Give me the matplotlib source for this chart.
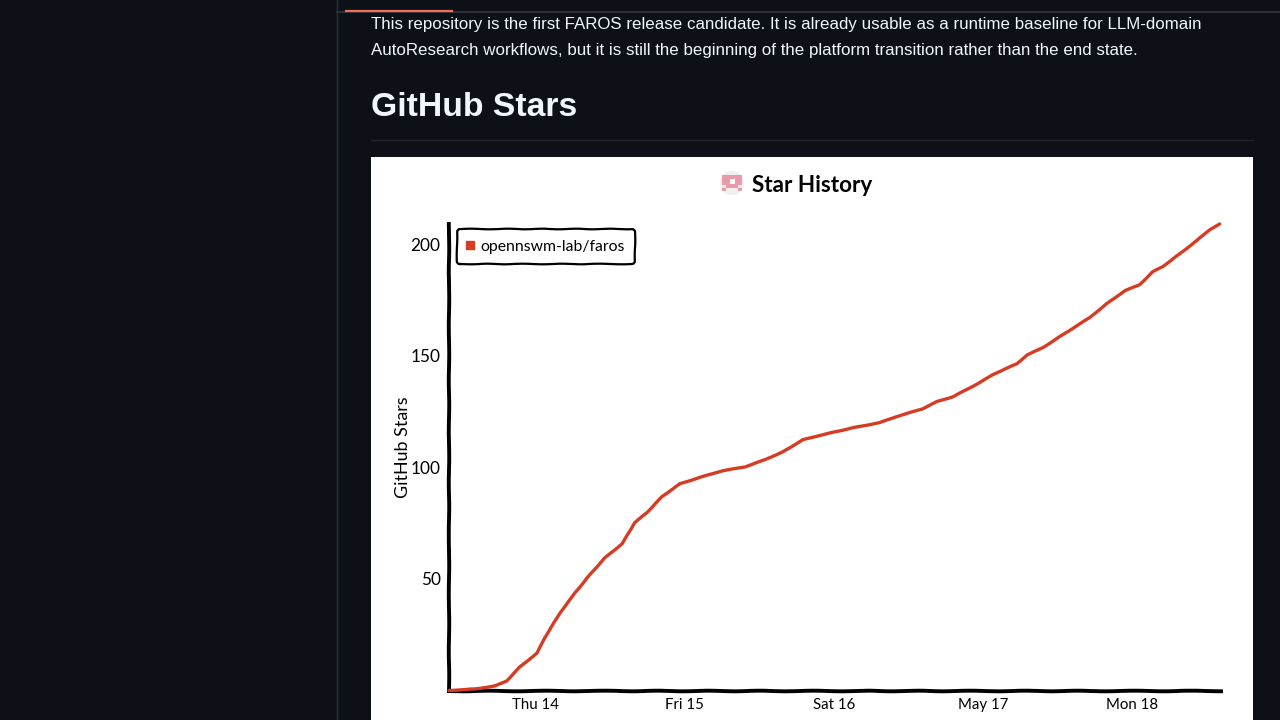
from datetime import datetime, timedelta
import matplotlib
matplotlib.use("Agg")
import matplotlib.pyplot as plt
from matplotlib.lines import Line2D
from matplotlib.patches import Circle, Rectangle

# hours after midnight on Thu 14 May
hours = [-14.0, -9.8, -6.6, -4.7, -2.6, 0.2, 1.4, 3.9, 6.3, 8.4,
         11.1, 13.9, 15.9, 18.0, 20.3, 23.2, 26.7, 30.0, 33.7, 36.9,
         39.8, 43.0, 46.2, 51.1, 55.4, 58.1, 62.3, 64.6, 67.2, 71.5,
         73.6, 77.5, 79.2, 81.7, 84.4, 89.2, 92.0, 94.9, 97.3, 99.4,
         101.0, 104.2, 106.5, 108.6, 110.2]
stars = [0.0, 0.7, 2.0, 4.3, 10.5, 16.8, 23.5, 34.8, 43.7, 50.9,
         59.4, 65.7, 75.1, 80.0, 86.8, 92.6, 95.7, 98.4, 100.2, 103.4,
         106.9, 112.3, 114.6, 117.7, 120.0, 122.7, 126.2, 129.4, 131.6, 137.9,
         141.5, 146.4, 150.4, 153.6, 158.5, 167.0, 173.3, 179.1, 181.8, 187.6,
         189.9, 196.6, 201.6, 206.5, 209.0]
tick_days = [datetime(2026, 5, d) for d in (14, 15, 16, 17, 18)]
tick_labels = ["Thu 14", "Fri 15", "Sat 16", "May 17", "Mon 18"]
star_ticks = [50, 100, 150, 200]
repo_name = "opennswm-lab/faros"

PAGE = "#0d1117"
RED = "#d63c24"
W, H = 1280, 720

t0 = datetime(2026, 5, 14)
dates = [t0 + timedelta(hours=h) for h in hours]

fig = plt.figure(figsize=(12.8, 7.2), dpi=100, facecolor=PAGE)

################################################################
# page around the chart, in pixel coordinates
page = fig.add_axes([0, 0, 1, 1])
page.set_xlim(0, W)
page.set_ylim(H, 0)
page.axis("off")
page.plot([337, 337], [0, H], color="#2a2f36", lw=1)
page.plot([337, W], [12, 12], color="#30363d", lw=1.2)
page.plot([346, 452], [11, 11], color="#f0705a", lw=1.6)
page.plot([371, 1253], [140, 140], color="#21262d", lw=1)
page.add_patch(Rectangle((371, 157), 882, 563, color="white", lw=0))
body = dict(color="#f0f6fc", fontsize=12.2, family="Liberation Sans", va="center")
page.text(371, 24.5, "This repository is the first FAROS release candidate. It is already usable as a runtime baseline for LLM-domain", **body)
page.text(371, 50, "AutoResearch workflows, but it is still the beginning of the platform transition rather than the end state.", **body)
page.text(371, 107.5, "GitHub Stars", color="#f0f6fc", fontsize=24.3, family="Liberation Sans",
          weight="bold", va="center")

# title icon
pink = "#e99aa9"
page.add_patch(Circle((732, 183), 12, color="#efefef", lw=0))
page.add_patch(Rectangle((722, 175), 20, 10, color=pink, lw=0))
page.add_patch(Rectangle((726, 185), 12, 3, color=pink, lw=0))
page.add_patch(Rectangle((722, 188), 4, 3, color=pink, lw=0))
page.add_patch(Rectangle((738, 188), 4, 3, color=pink, lw=0))
page.add_patch(Rectangle((730, 179), 5, 5, color="white", lw=0))
page.text(752, 185, "Star History", color="black", fontsize=16.2, family="Lato",
          weight="bold", va="center")

################################################################
ax = fig.add_axes([449 / W, (H - 690.5) / H, (1221 - 449) / W, (690.5 - 224) / H])
ax.patch.set_alpha(0)
line, = ax.plot(dates, stars, color=RED, lw=2.4, solid_joinstyle="round", solid_capstyle="round",
                clip_on=False, zorder=3, label=repo_name)
line.set_sketch_params(scale=0.12, length=30, randomness=2)
ax.set_xlim(t0 - timedelta(hours=14), t0 + timedelta(hours=110.4))
ax.set_ylim(0, 209)
ax.set_xticks(tick_days, tick_labels)
ax.set_yticks(star_ticks)
ax.tick_params(axis="both", length=0, labelcolor="black")
ax.tick_params(axis="x", pad=5.5, labelsize=10.8)
ax.tick_params(axis="y", pad=6, labelsize=12.4)
for lab in ax.get_xticklabels() + ax.get_yticklabels():
    lab.set_family("Lato")
ax.set_ylabel("GitHub Stars", fontsize=12.9, family="Lato")
ax.yaxis.set_label_coords(-0.049, 0.521)
for side in ("top", "right"):
    ax.spines[side].set_visible(False)
for side in ("left", "bottom"):
    ax.spines[side].set_linewidth(2.8)
    ax.spines[side].set_color("black")
ax.spines["left"].set_sketch_params(scale=0.22, length=60, randomness=2)
ax.spines["bottom"].set_sketch_params(scale=0.3, length=60, randomness=2)

handle = Line2D([], [], color=RED, marker="s", ms=6, ls="none", label=repo_name)
leg = ax.legend(handles=[handle], loc="upper left", bbox_to_anchor=(0.0104, 0.989),
                borderaxespad=0, handletextpad=0.5, handlelength=0.3, borderpad=0.68,
                fancybox=True, prop={"family": "Lato", "size": 11.3},
                framealpha=1, edgecolor="black", facecolor="white")
frame = leg.get_frame()
frame.set_linewidth(1.6)
frame.set_sketch_params(scale=0.3, length=40, randomness=2)

fig.savefig("out.png", dpi=100, facecolor=PAGE)
